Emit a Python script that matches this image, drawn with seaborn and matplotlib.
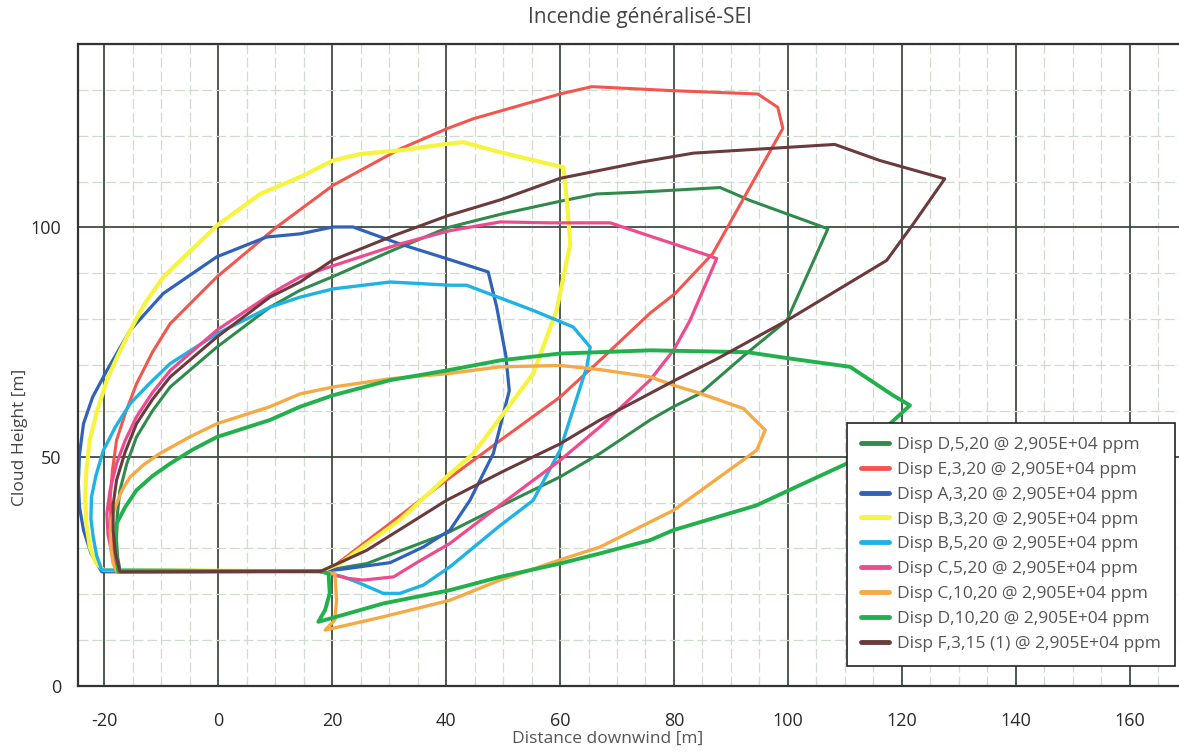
import matplotlib
matplotlib.use("Agg")
import matplotlib.pyplot as plt
from matplotlib.lines import Line2D
from matplotlib.ticker import MultipleLocator
import pandas as pd
import seaborn as sns

# Cloud envelopes (distance downwind [m], cloud height [m]) for each dispersion case
d5_x = [18, 26.1, 40.1, 50, 60, 67, 75.8, 79.9, 84.6, 92.8, 99.8, 107.0, 93.3, 88.1, 74, 66.4, 60, 50, 40.4, 31, 20, 14.4, 9.1, -0.2, -8.4, -11.5, -14.3, -16, -17.2, -17.7, -17.8, -17.6, -17.2, 18]
d5_y = [25, 26.7, 33.3, 39.5, 45.6, 50.7, 58, 60.9, 63.8, 72.6, 79.7, 99.7, 105.9, 108.7, 107.7, 107.3, 105.7, 103, 100, 95.2, 89.2, 86.3, 82.6, 73.9, 65.2, 60, 54.3, 48.5, 42.7, 37, 31.8, 28, 25.3, 25]

e3_x = [18, 20.2, 30, 40.1, 50, 60, 67, 75.8, 80.2, 86.8, 99.1, 98.2, 94.7, 80.2, 65.6, 60, 44.8, 40.1, 31.9, 20.2, 10.3, -0.2, -8.4, -11.5, -14.3, -16.2, -17.8, -18.5, -18.9, -18.8, -18.4, -17.5, 18]
e3_y = [25, 26, 35.3, 44.9, 54, 63, 71, 81.3, 85.6, 94.3, 121.6, 126.2, 129.1, 129.8, 130.7, 129.1, 123.7, 121.5, 117.1, 109.2, 100.1, 89.2, 79, 72.8, 65.9, 59.7, 53.6, 47.3, 41.2, 35.5, 30.3, 25.3, 25]

a3_x = [18, 22, 30.2, 36, 40.7, 44.2, 48.3, 51.1, 50.5, 48.9, 47.4, 40.1, 31.9, 23.7, 20.2, 14.4, 8.5, -0.2, -9.6, -15.4, -19.5, -22, -23.6, -24.3, -24.5, -24.3, -23.6, -22.3, -20.4, 18]
a3_y = [25, 25.5, 26.9, 30.3, 34, 40.5, 50.7, 64.4, 72, 82.6, 90.3, 93.2, 96.4, 100.1, 100.1, 98.6, 97.9, 93.6, 85.6, 77.6, 68.8, 63, 57.2, 50.5, 44.2, 39, 34, 29, 24.9, 25]

b3_x = [18, 21.4, 31.9, 40.1, 44.8, 50, 55.3, 59.4, 61.8, 61.2, 60.6, 49.5, 43.0, 40.1, 31.9, 24.9, 20.2, 14.4, 7.4, -0.2, -9.6, -12.8, -15.4, -17.6, -19.5, -21.2, -22.5, -23.1, -23.3, -23.1, -22.5, -21.5, -20.1, 18]
b3_y = [25, 26.7, 36.2, 45.6, 50.7, 59.3, 68.1, 81.9, 96.4, 105.9, 113.1, 116.4, 118.6, 118.2, 116.8, 116, 114.6, 111, 107.3, 100.4, 89.2, 83.5, 77.6, 72, 66.7, 60, 53.6, 47, 41.2, 35.5, 30.3, 27, 25.3, 25]

b5_x = [18, 22, 24.9, 29, 31.9, 36, 40.7, 49.5, 55.3, 60, 64.7, 65.3, 62.3, 55.3, 43.6, 40.7, 30.2, 20.2, 14.4, 9.1, -0.2, -8.4, -12, -15.4, -18, -20.1, -21.4, -22.2, -22.3, -21.9, -21.3, -20.4, 18]
b5_y = [25, 23.8, 22.4, 20.2, 20.2, 22, 26, 35, 40.5, 51.4, 69.6, 73.9, 78.3, 81.9, 87.4, 87.4, 88.1, 86.6, 84.8, 82.6, 76.8, 70.3, 66, 61.6, 56.5, 51.4, 46, 41.2, 36.5, 32.5, 28.5, 25.3, 25]

c5_x = [18, 22.6, 25.5, 30.8, 35, 40.7, 50.6, 60, 67, 75.8, 79.9, 82.8, 87.5, 86, 68.8, 58.2, 49.5, 40.7, 31.9, 19.6, 14.4, 10.3, -0.2, -8.4, -11.5, -14.3, -16.3, -17.8, -18.9, -19.5, -19.3, -18.6, -17.8, 18]
c5_y = [25, 23.5, 23.1, 23.8, 27, 31.1, 40.5, 49.2, 56.5, 66.7, 73.2, 79.7, 93.2, 93.9, 101, 101, 101.2, 99.3, 96.4, 91.4, 89.2, 86.3, 77.6, 68.8, 64, 58.7, 53.5, 48.5, 43, 37.6, 33, 28.9, 24.9, 25]

c10_x = [18, 20.5, 20.8, 20.5, 18.8, 29, 40.7, 49.5, 60, 67, 79.9, 92.8, 94.5, 96, 92.2, 84.6, 79.9, 75.8, 67, 60, 49.5, 40.1, 30.2, 20.2, 14.4, 9.1, -0.2, -5, -10.2, -13, -15.4, -16.8, -17.8, -18.6, -18.9, -18.8, -18.4, -17.8, 18]
c10_y = [25, 24.5, 18.7, 14.4, 12.2, 15.1, 18.7, 23.1, 27.5, 30.3, 38.3, 49.9, 51.4, 55.8, 60.5, 63.8, 65.6, 67.4, 69, 69.9, 69.6, 68.1, 67, 65.2, 63.7, 60.9, 57.2, 54.3, 50.7, 48.3, 45.6, 42.8, 39.8, 36.8, 34, 30, 26.7, 25, 25]

d10_x = [18, 19.4, 19.6, 18.8, 17.6, 20.8, 29, 40.7, 49.5, 60, 67, 75.8, 79.9, 94.5, 102.1, 110.3, 121.4, 118.4, 110.9, 100.4, 92.8, 75.8, 67, 60, 49.5, 40.1, 30.2, 20.2, 14.4, 9.1, -0.2, -4.5, -8.4, -11.5, -14.3, -16.3, -17.8, -18, -17.5, 18]
d10_y = [25, 24.5, 20.2, 16.6, 14, 15.1, 18, 20.9, 23.8, 26.7, 28.9, 31.8, 34, 39.4, 43.8, 48.5, 61.2, 63.4, 69.6, 71.4, 72.8, 73.2, 72.8, 72.5, 71, 68.8, 66.7, 63.4, 60.9, 58, 54.3, 51.5, 48.5, 45.8, 42.7, 39, 35.4, 30, 25, 25]

f3_x = [18, 26.1, 40.1, 50, 60, 67, 79.9, 87.5, 99.8, 117.3, 122, 127.5, 116.1, 108.2, 83.4, 74, 60, 49.5, 40.4, 31, 20, 14.4, 9.1, -0.2, -8.4, -11.5, -14.3, -16.3, -17.8, -18.4, -18.4, -18, -17.2, 18]
f3_y = [25, 29.6, 40.5, 46.8, 52.8, 58, 66.5, 71.3, 79.7, 92.8, 100.8, 110.6, 114.6, 118.1, 116.2, 114.2, 110.7, 106, 102.6, 98.3, 92.8, 88.1, 84.8, 76.1, 67.4, 62.5, 57.2, 51, 44.9, 39.5, 34, 29, 24.9, 25]

series_names = [
    "Disp D,5,20 @ 2,905E+04 ppm",
    "Disp E,3,20 @ 2,905E+04 ppm",
    "Disp A,3,20 @ 2,905E+04 ppm",
    "Disp B,3,20 @ 2,905E+04 ppm",
    "Disp B,5,20 @ 2,905E+04 ppm",
    "Disp C,5,20 @ 2,905E+04 ppm",
    "Disp C,10,20 @ 2,905E+04 ppm",
    "Disp D,10,20 @ 2,905E+04 ppm",
    "Disp F,3,15 (1) @ 2,905E+04 ppm",
]
series_x = [d5_x, e3_x, a3_x, b3_x, b5_x, c5_x, c10_x, d10_x, f3_x]
series_y = [d5_y, e3_y, a3_y, b3_y, b5_y, c5_y, c10_y, d10_y, f3_y]
series_colors = ["#2f8a4c", "#f2564e", "#2f62b8", "#f6f43e", "#1fb2e6",
                 "#f04a8e", "#f5aa45", "#22b04c", "#6a3a3c"]
series_widths = [2.2, 2.2, 2.3, 3.0, 2.4, 2.3, 2.4, 2.8, 2.2]

frames = []
for name, xs, ys in zip(series_names, series_x, series_y):
    frames.append(pd.DataFrame({"x": xs, "y": ys, "series": name}))
df = pd.concat(frames, ignore_index=True)
palette = dict(zip(series_names, series_colors))

sns.set_style("white")
plt.rcParams["font.family"] = ["Open Sans", "DejaVu Sans"]
plt.rcParams["axes.unicode_minus"] = False

fig = plt.figure(figsize=(11.79, 7.52), dpi=100)
ax = fig.add_axes([77.8 / 1179, 1 - 686 / 752, 1 - 77.8 / 1179, 642 / 752])

sns.lineplot(data=df, x="x", y="y", hue="series", hue_order=series_names,
             palette=palette, sort=False, estimator=None, units="series",
             legend=False, linewidth=2.3, ax=ax)
for line, lw in zip(ax.get_lines(), series_widths):
    line.set_linewidth(lw)
    line.set_solid_joinstyle("round")

ax.set_xlim(-24.6, 168.6)
ax.set_ylim(0, 140)
ax.xaxis.set_major_locator(MultipleLocator(20))
ax.xaxis.set_minor_locator(MultipleLocator(5))
ax.yaxis.set_major_locator(MultipleLocator(50))
ax.yaxis.set_minor_locator(MultipleLocator(10))

ax.set_axisbelow(True)
ax.grid(which="major", color="#3f4c40", linewidth=1.3)
ax.grid(which="minor", color="#cfdccf", linewidth=0.9, linestyle=(0, (8, 3)))

for side in ("left", "bottom", "top"):
    ax.spines[side].set_color("#333333")
    ax.spines[side].set_linewidth(1.6)
ax.spines["right"].set_visible(False)

ax.tick_params(axis="x", which="major", direction="out", length=8, width=1.4,
               color="#333333", labelsize=13, labelcolor="#2a2a2a", pad=11)
ax.tick_params(axis="x", which="minor", direction="out", length=6, width=1.2,
               color="#333333")
ax.tick_params(axis="y", which="major", direction="out", length=7, width=1.4,
               color="#333333", labelsize=13, labelcolor="#2a2a2a", pad=5)
ax.tick_params(axis="y", which="minor", direction="out", length=6, width=1.2,
               color="#333333")

ax.set_xlabel("Distance downwind [m]", fontsize=12.5, color="#555555")
ax.set_ylabel("Cloud Height [m]", fontsize=12.5, color="#444444")
ax.xaxis.set_label_coords((608 - 77.8) / 1101.2, (686 - 731) / 642)
ax.yaxis.set_label_coords((28 - 77.8) / 1101.2, (686 - 437) / 642)

fig.text(640 / 1179, 1 - 18 / 752, "Incendie généralisé-SEI", ha="center",
         va="center", fontsize=15, color="#444444")

handles = [Line2D([0], [0], color=c, linewidth=3.5) for c in series_colors]
leg = ax.legend(handles, series_names, loc="upper left",
                bbox_to_anchor=(847 / 1179, 1 - 423 / 752),
                bbox_transform=fig.transFigure, fontsize=12.5,
                handlelength=1.6, handletextpad=0.5, labelspacing=0.5,
                borderpad=0.8, frameon=True, fancybox=False, framealpha=1,
                borderaxespad=0)
leg.get_frame().set_edgecolor("#222222")
leg.get_frame().set_linewidth(1.2)
for t in leg.get_texts():
    t.set_color("#555555")

fig.savefig("out.png", dpi=100)
